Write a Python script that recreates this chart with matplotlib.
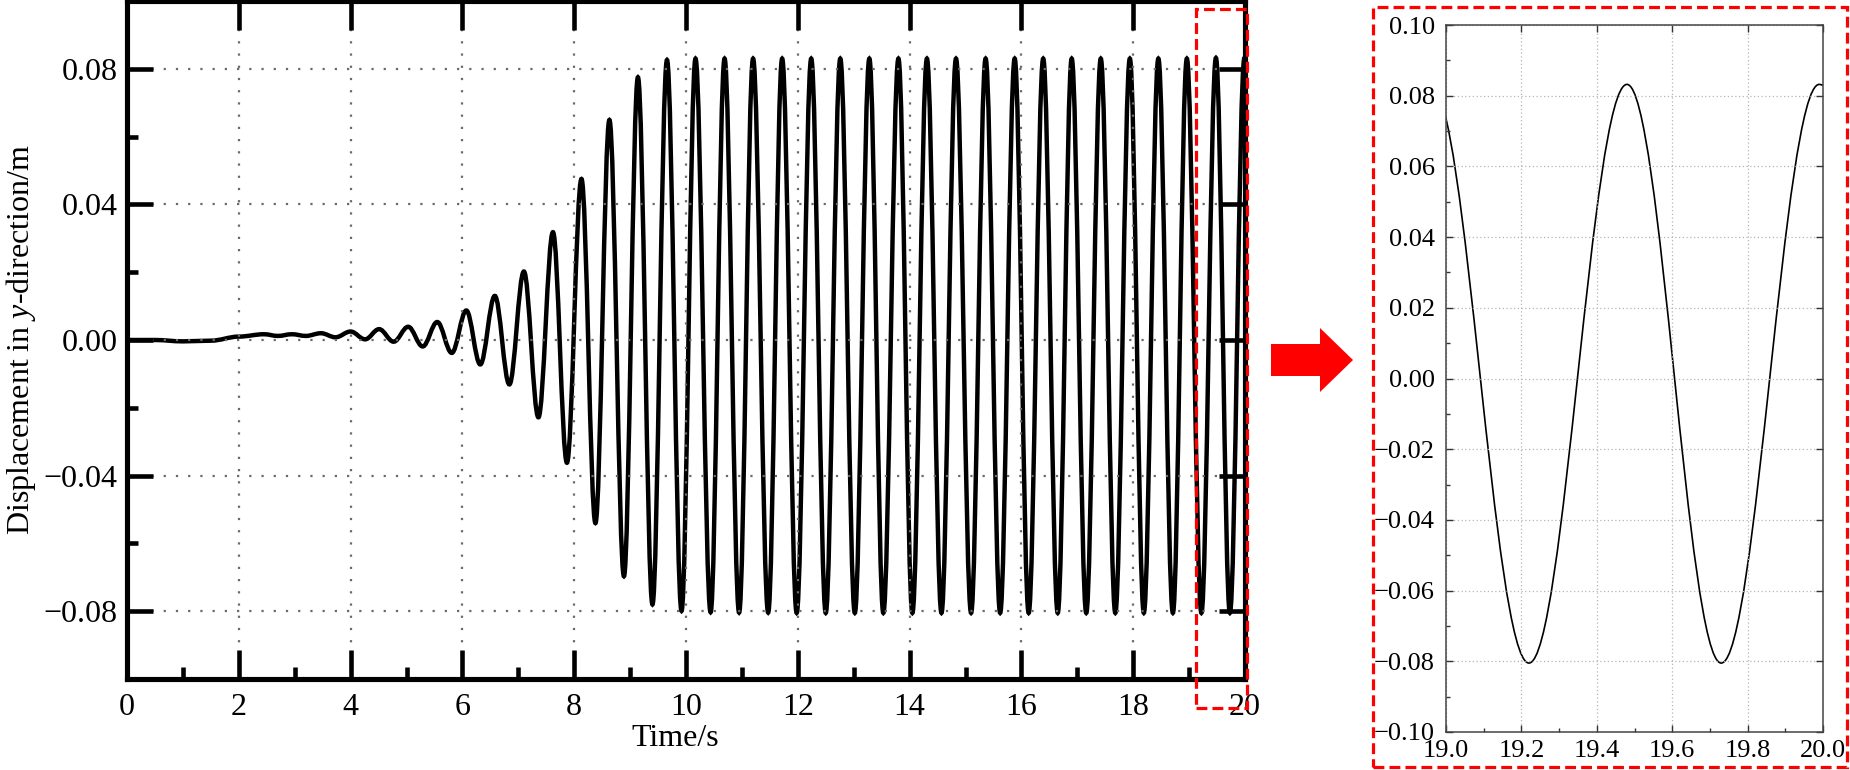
import numpy as np
import matplotlib
matplotlib.use("Agg")
import matplotlib.pyplot as plt
import matplotlib.patches as mpatches
from matplotlib.path import Path
from matplotlib.ticker import MultipleLocator

# 读图得到的位移曲线极值点 (时间/s, 位移/m)
disp_time = [0.00, 0.50, 1.00, 1.50, 2.00, 2.45, 2.70, 2.95, 3.20, 3.47,
             3.73, 4.00, 4.26, 4.51, 4.77, 5.03, 5.29, 5.55, 5.81, 6.07,
             6.32, 6.58, 6.84, 7.10, 7.36, 7.62, 7.87, 8.13, 8.38, 8.63,
             8.89, 9.14, 9.40, 9.66, 9.92, 10.17, 10.44, 10.69, 10.95, 11.20,
             11.47, 11.72, 11.98, 12.24, 12.50, 12.76, 13.02, 13.28, 13.53, 13.80,
             14.05, 14.31, 14.57, 14.83, 15.10, 15.36, 15.62, 15.88, 16.13, 16.39,
             16.65, 16.90, 17.16, 17.42, 17.68, 17.94, 18.19, 18.45, 18.71, 18.96,
             19.22, 19.48, 19.73, 19.99, 20.00]
disp_value = [0.0000, 0.0000, -0.0004, -0.0002, 0.0010, 0.0017, 0.0012, 0.0017, 0.0012, 0.0020,
              0.0008, 0.0025, 0.0002, 0.0032, -0.0005, 0.0039, -0.0019, 0.0053, -0.0038, 0.0087,
              -0.0072, 0.0130, -0.0131, 0.0202, -0.0228, 0.0318, -0.0362, 0.0475, -0.0540, 0.0649,
              -0.0697, 0.0775, -0.0780, 0.0826, -0.0799, 0.0830, -0.0803, 0.0830, -0.0804, 0.0830,
              -0.0804, 0.0830, -0.0805, 0.0830, -0.0805, 0.0830, -0.0805, 0.0830, -0.0805, 0.0830,
              -0.0805, 0.0830, -0.0805, 0.0830, -0.0805, 0.0830, -0.0805, 0.0830, -0.0805, 0.0830,
              -0.0805, 0.0830, -0.0805, 0.0830, -0.0805, 0.0830, -0.0805, 0.0830, -0.0805, 0.0830,
              -0.0805, 0.0832, -0.0805, 0.0832, 0.0830]

# 刻度
main_xticks = [0, 2, 4, 6, 8, 10, 12, 14, 16, 18, 20]
main_yticks = [-0.08, -0.04, 0.00, 0.04, 0.08]
main_ytick_labels = ["\u22120.08", "\u22120.04", "0.00", "0.04", "0.08"]
zoom_xticks = [19.0, 19.2, 19.4, 19.6, 19.8, 20.0]
zoom_xtick_labels = ["19.0", "19.2", "19.4", "19.6", "19.8", "20.0"]
zoom_yticks = [-0.10, -0.08, -0.06, -0.04, -0.02, 0.00, 0.02, 0.04, 0.06, 0.08, 0.10]
zoom_ytick_labels = ["\u22120.10", "\u22120.08", "\u22120.06", "\u22120.04", "\u22120.02",
                     "0.00", "0.02", "0.04", "0.06", "0.08", "0.10"]

plt.rcParams["font.family"] = ["Liberation Serif", "DejaVu Serif"]
plt.rcParams["mathtext.fontset"] = "custom"
plt.rcParams["mathtext.rm"] = "Liberation Serif"
plt.rcParams["mathtext.it"] = "Liberation Serif:italic"


def smooth_path(t, v, k=0.363):
    # 相邻极值点之间用三次贝塞尔曲线连接（极值处切线水平）
    verts = [(t[0], v[0])]
    codes = [Path.MOVETO]
    for i in range(1, len(t)):
        dt = t[i] - t[i - 1]
        verts += [(t[i - 1] + k * dt, v[i - 1]), (t[i] - k * dt, v[i]), (t[i], v[i])]
        codes += [Path.CURVE4] * 3
    return Path(verts, codes)


W, H = 1850, 770
fig = plt.figure(figsize=(W / 100, H / 100), dpi=100)


def fx(px):
    return px / W


def fy(py):
    return 1 - py / H


# ---------------- 主图 ----------------
ax = fig.add_axes([fx(127), fy(679), fx(1245) - fx(127), fy(1) - fy(679)])
ax.add_patch(mpatches.PathPatch(smooth_path(disp_time, disp_value),
                                facecolor="none", edgecolor="black", lw=3.2))
ax.set_xlim(0, 20)
ax.set_ylim(-0.1, 0.1)
ax.set_xticks(main_xticks)
ax.set_xticklabels([str(x) for x in main_xticks])
ax.set_yticks(main_yticks)
ax.set_yticklabels(main_ytick_labels)
ax.xaxis.set_minor_locator(MultipleLocator(1))
ax.yaxis.set_minor_locator(MultipleLocator(0.02))
ax.tick_params(which="both", direction="in", top=True, right=True,
               labelsize=23, width=3.3, color="black")
ax.tick_params(axis="x", which="major", length=21, pad=10)
ax.tick_params(axis="x", which="minor", length=9)
ax.tick_params(axis="y", which="major", length=19, pad=7)
ax.tick_params(axis="y", which="minor", length=8)
ax.tick_params(which="minor", top=False, right=False)
for s in ax.spines.values():
    s.set_linewidth(3.7)
ax.grid(True, which="major", linestyle=(0, (1, 4.5)), color="#6a6a6a", lw=1.6)
ax.set_xlabel("Time/s", fontsize=23, va="center")
ax.set_ylabel("Displacement in $y$-direction/m", fontsize=23, va="center")
ax.xaxis.set_label_coords(0.49, -0.088)
ax.yaxis.set_label_coords(-0.0946, 0.5)

# ---------------- 局部放大图 ----------------
axz = fig.add_axes([fx(1446), fy(732), fx(1823) - fx(1446), fy(25) - fy(732)])
axz.add_patch(mpatches.PathPatch(smooth_path(disp_time, disp_value),
                                 facecolor="none", edgecolor="black", lw=1.2))
axz.set_xlim(19.0, 20.0)
axz.set_ylim(-0.1, 0.1)
axz.set_xticks(zoom_xticks)
axz.set_xticklabels(zoom_xtick_labels)
axz.set_yticks(zoom_yticks)
axz.set_yticklabels(zoom_ytick_labels)
axz.xaxis.set_minor_locator(MultipleLocator(0.1))
axz.yaxis.set_minor_locator(MultipleLocator(0.01))
axz.tick_params(which="both", direction="in", top=True, right=True,
                labelsize=19, width=1.0, color="#333333")
axz.tick_params(axis="x", which="major", length=5, pad=6)
axz.tick_params(axis="y", which="major", length=5, pad=8)
axz.tick_params(which="minor", length=3)
axz.tick_params(which="minor", top=False, right=False)
for s in axz.spines.values():
    s.set_linewidth(1.1)
    s.set_color("#444444")
axz.grid(True, which="major", linestyle=(0, (1, 2)), color="#b5b5b5", lw=0.9)

# ---------------- 红色虚线框与箭头 ----------------
red = "#ff0000"
box1 = mpatches.Rectangle((fx(1196), fy(708)), fx(1247) - fx(1196), fy(9) - fy(708),
                          transform=fig.transFigure, fill=False, edgecolor=red,
                          lw=2.3, linestyle=(0, (3.4, 1.6)), clip_on=False, zorder=10)
box2 = mpatches.Rectangle((fx(1373), fy(767)), fx(1847) - fx(1373), fy(7) - fy(767),
                          transform=fig.transFigure, fill=False, edgecolor=red,
                          lw=2.3, linestyle=(0, (3.4, 1.6)), clip_on=False, zorder=10)
fig.patches.extend([box1, box2])

arrow_px = [(1271, 344), (1320, 344), (1320, 328), (1353, 360),
            (1320, 392), (1320, 376), (1271, 376)]
arrow = mpatches.Polygon([(fx(x), fy(y)) for x, y in arrow_px], closed=True,
                         transform=fig.transFigure, facecolor=red, edgecolor="none")
fig.patches.append(arrow)

fig.savefig("out.png", dpi=100)
